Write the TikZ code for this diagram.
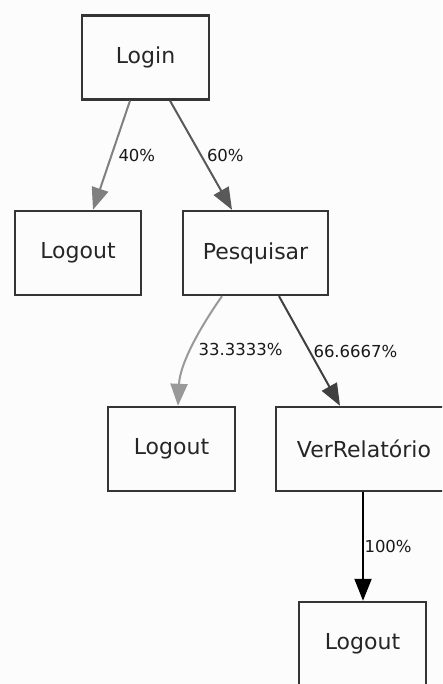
\documentclass[tikz,border=0pt]{standalone}
\usepackage{fontspec}
\setmainfont{DejaVu Sans}
\usetikzlibrary{arrows.meta,calc}
\definecolor{bg}{HTML}{FBFCFB}
\definecolor{boxline}{HTML}{353535}
\definecolor{wlow}{HTML}{999999}
\definecolor{wmid}{HTML}{808080}
\definecolor{whigh}{HTML}{595959}
\definecolor{wtop}{HTML}{404040}
\begin{document}
\begin{tikzpicture}[x=1pt,y=-1pt,
  state/.style={draw=boxline, line width=2.4pt, minimum height=84pt, inner sep=0pt,
    font=\fontsize{22}{26}\selectfont, text=black!85},
  lbl/.style={font=\fontsize{16.5}{20}\selectfont, anchor=west, inner sep=0pt, text=black!90},
  link/.style={line width=2pt, -{Triangle[length=22pt,width=17pt]}}]
\clip (0,0) rectangle (442,684);
\fill[bg] (0,0) rectangle (442,684);

% states
\node[state, minimum width=127pt] (login) at (145.5,57.5) {Login};
\node[state, minimum width=126pt] (out1) at (78,253) {Logout};
\node[state, minimum width=145pt] (pesq) at (255.5,253) {Pesquisar};
\node[state, minimum width=127pt] (out2) at (171.5,449) {Logout};
\node[state, minimum width=176pt] (ver) at (364,449) {VerRelatório};
\node[state, minimum width=127pt] (out3) at (362.5,644) {Logout};

% transitions, shaded by probability
\draw[link, wmid] ($(login.south)+(-15.5,0)$) -- node[lbl, pos=.5, xshift=6pt] {40\%} ($(out1.north)+(15,0)$);
\draw[link, whigh] ($(login.south)+(24.5,0)$) -- node[lbl, pos=.5, xshift=5pt] {60\%} ($(pesq.north)+(-23.5,0)$);
\draw[link, wlow] ($(pesq.south)+(-33.5,0)$) .. controls (203,323) and (180,362) .. node[lbl, pos=.5, xshift=4pt, yshift=-5pt] {33.3333\%} ($(out2.north)+(6.5,0)$);
\draw[link, wtop] ($(pesq.south)+(23.5,0)$) -- node[lbl, pos=.5, xshift=3pt] {66.6667\%} ($(ver.north)+(-24,0)$);
\draw[link, black] ($(ver.south)+(-1,0)$) -- node[lbl, pos=.5, xshift=0.5pt] {100\%} ($(out3.north)+(0.5,0)$);
\end{tikzpicture}
\end{document}
